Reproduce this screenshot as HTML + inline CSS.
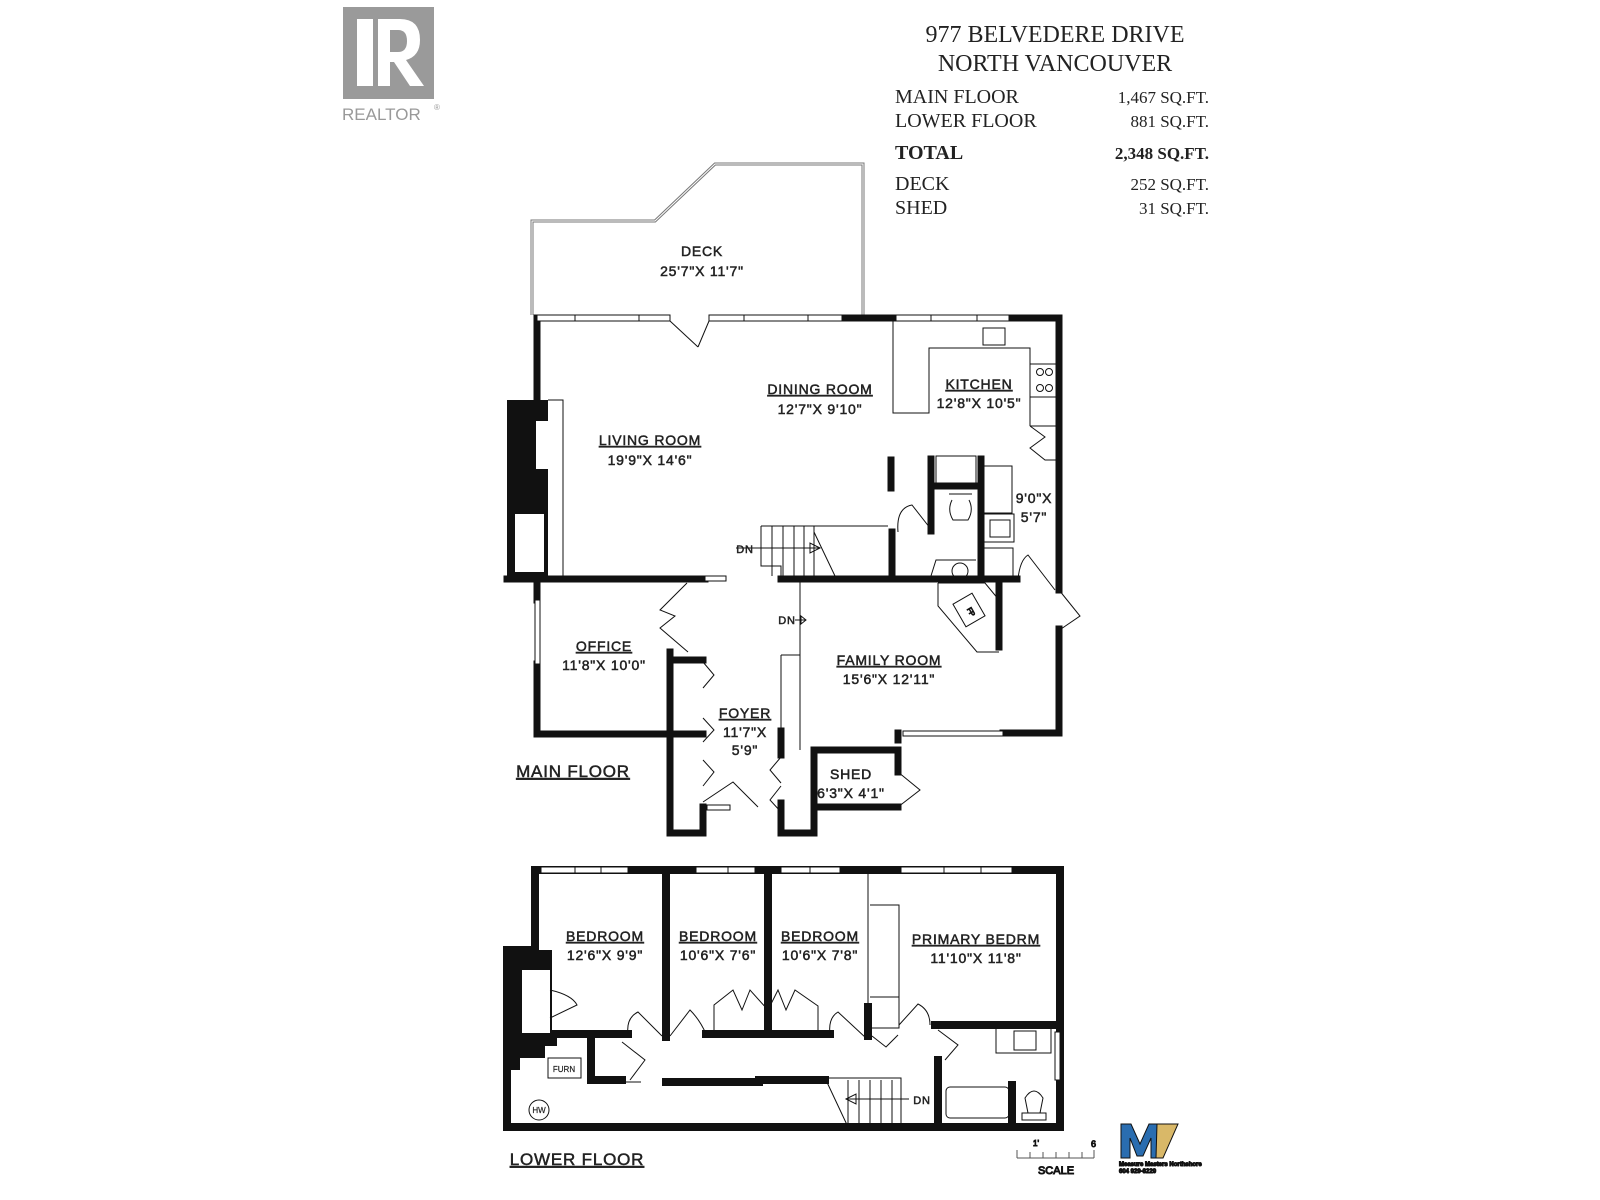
<!DOCTYPE html>
<html><head><meta charset="utf-8"><style>
html,body{margin:0;padding:0;background:#fff;}
svg{display:block}
.l{font-family:"Liberation Sans",sans-serif;font-size:14px;fill:#222;text-anchor:middle;stroke:#222;stroke-width:0.5;letter-spacing:0.8px}
.s{font-family:"Liberation Serif",serif;fill:#222}
</style></head><body>
<svg width="1600" height="1200" viewBox="0 0 1600 1200" xmlns="http://www.w3.org/2000/svg">
<rect width="1600" height="1200" fill="#fff"/>
<rect x="343" y="7" width="91" height="92" fill="#9a9a9a"/>
<rect x="357" y="19" width="16" height="67" fill="#fff"/>
<path d="M378 19 H400 Q420 19 420 40 Q420 56 406 60 L424 86 H410 L394 62 H390 V86 H378 Z M390 30 V52 H398 Q407 52 407 41 Q407 30 398 30 Z" fill="#fff"/>
<text x="342" y="120" font-family="Liberation Sans,sans-serif" font-size="17" fill="#999">REALTOR</text>
<text x="434" y="110" font-family="Liberation Sans,sans-serif" font-size="8" fill="#999">®</text>
<g class="s" font-size="24">
<text x="1055" y="42" text-anchor="middle">977 BELVEDERE DRIVE</text>
<text x="1055" y="71" text-anchor="middle">NORTH VANCOUVER</text>
</g>
<g class="s" font-size="20">
<text x="895" y="103">MAIN FLOOR</text><text x="1209" y="103" text-anchor="end" font-size="17">1,467 SQ.FT.</text>
<text x="895" y="127">LOWER FLOOR</text><text x="1209" y="127" text-anchor="end" font-size="17">881 SQ.FT.</text>
<text x="895" y="159" font-weight="bold">TOTAL</text><text x="1209" y="159" text-anchor="end" font-size="17" font-weight="bold">2,348 SQ.FT.</text>
<text x="895" y="190">DECK</text><text x="1209" y="190" text-anchor="end" font-size="17">252 SQ.FT.</text>
<text x="895" y="214">SHED</text><text x="1209" y="214" text-anchor="end" font-size="17">31 SQ.FT.</text>
</g>
<path d="M532 315 V221 H655 L715 164 H863 V315" fill="none" stroke="#777" stroke-width="3"/>
<path d="M532 315 V221 H655 L715 164 H863 V315" fill="none" stroke="#fff" stroke-width="1"/>
<text class="l" x="702" y="256">DECK</text>
<text class="l" x="702" y="276">25'7"X 11'7"</text>

<g fill="none" stroke="#111">
<g stroke-width="7" stroke-linecap="square">
<path d="M842 318 H896 M1009 318 H1059 V590 M1059 629 V733 H1003"/>
<path d="M537 318 V400"/>
<path d="M537 600 V579 M507 579 H705"/>
<path d="M537 664 V734 H703 M670 652 V833 H703 V807 M670 660 H703"/>
<path d="M781 731 V755 M781 803 V833 H814 V750 H898 V772 M814 807 H898 M898 733 V740"/>
<path d="M781 579 H1017"/>
<path d="M931 459 V531 M931 486 H981 M981 459 V579"/>
<path d="M999 579 V647"/>
<path d="M891 460 V488"/>
<path d="M892 532 V579"/>
</g>
<rect x="507" y="400" width="41" height="180" fill="#111" stroke="none"/>
<rect x="536" y="421" width="12" height="48" fill="#fff" stroke="none"/>
<rect x="515" y="514" width="29" height="58" fill="#fff" stroke="none"/>
<path d="M548 400 H563 V578" stroke-width="1"/>
<g stroke-width="1" fill="#fff">
<rect x="537" y="315" width="133" height="6"/><rect x="709" y="315" width="133" height="6"/><rect x="896" y="315" width="113" height="6"/>
<path d="M575 315V321M639 315V321M744 315V321M808 315V321M931 315V321M977 315V321"/>
<rect x="705" y="576" width="21" height="5"/>
<rect x="535" y="600" width="5" height="64"/>
<rect x="903" y="731" width="100" height="5"/>
<rect x="707" y="805" width="23" height="5"/>
</g>
<g stroke-width="1">
<path d="M670 321 L698 347 M709 321 L698 347"/>
<path d="M687 583 L660 610 L675 616 L660 628 L688 652"/>
<path d="M703 662 L714 675 L703 688 M703 718 L714 730 L703 742 M703 760 L714 772 L703 786 M781 757 L770 770 L781 783 M781 786 L770 800 L781 812 M703 802 L733 782 L758 807"/>
<path d="M898 772 L920 790 L898 807"/>
<path d="M1059 590 L1080 616 L1061 629"/>
<path d="M1056 426 H1030 M1030 426 L1045 437 L1030 448 L1045 460 H1056"/>
<path d="M898 532 Q896 508 912 505 L930 528"/>
<path d="M1018 579 Q1020 560 1028 555 L1055 590"/>
<path d="M893 321 V413 H929 V348 H1030 V426 M1030 364 H1056 V397 H1030"/>
<rect x="983" y="328" width="22" height="17"/>
<circle cx="1040" cy="372" r="3.5"/><circle cx="1049" cy="372" r="3.5"/><circle cx="1040" cy="388" r="3.5"/><circle cx="1049" cy="388" r="3.5"/>
<rect x="936" y="456" width="40" height="29"/>
<path d="M984 466 H1012 V513 H984 M984 514 H1014 V542 H984 M984 548 H1013 V579"/>
<rect x="990" y="520" width="20" height="17"/>
<path d="M949 494 H972 M952 500 Q947 510 953 520 H968 Q974 510 969 500"/>
<path d="M930 579 L936 560 H976"/>
<circle cx="960" cy="571" r="8"/>
<path d="M761 526 H888 M761 526 V566 H781 V579 M772 526V576M783 526V576M794 526V576M804 526V576M814 526V576M814 532 L835 576 M736 548 H820 M820 548 L810 543 V553 Z"/>
<path d="M800 579 V750 M781 655 H800 M781 655 V731"/>
<path d="M938 583 V606 L977 652 H999 M938 583 H985 L999 600"/>
<rect x="958" y="597" width="22" height="26" transform="rotate(-30 969 610)"/>
<path d="M795 620 H806 M806 620 L801 616 V624 Z"/>
</g>
<g class="l">
<text x="820" y="394" text-decoration="underline">DINING ROOM</text><text x="820" y="414">12'7"X 9'10"</text>
<text x="979" y="389" text-decoration="underline">KITCHEN</text><text x="979" y="408">12'8"X 10'5"</text>
<text x="650" y="445" text-decoration="underline">LIVING ROOM</text><text x="650" y="465">19'9"X 14'6"</text>
<text x="1034" y="503">9'0"X</text><text x="1034" y="522">5'7"</text>
<text x="745" y="553" font-size="11">DN</text>
<text x="787" y="624" font-size="11">DN</text>
<text x="604" y="651" text-decoration="underline">OFFICE</text><text x="604" y="670">11'8"X 10'0"</text>
<text x="889" y="665" text-decoration="underline">FAMILY ROOM</text><text x="889" y="684">15'6"X 12'11"</text>
<text x="745" y="718" text-decoration="underline">FOYER</text><text x="745" y="737">11'7"X</text><text x="745" y="755">5'9"</text>
<text x="851" y="779">SHED</text><text x="851" y="798">6'3"X 4'1"</text>
<text x="573" y="777" font-size="17" text-decoration="underline">MAIN FLOOR</text>
<text x="577" y="1165" font-size="17" text-decoration="underline">LOWER FLOOR</text>
</g>
<text x="969" y="613" font-family="Liberation Sans,sans-serif" font-size="7" transform="rotate(60 969 613)" text-anchor="middle">FP</text>

<g fill="none" stroke="#111">
<g stroke-width="8" stroke-linecap="square">
<path d="M535 870 H1060 V1127 H507 V950 H535 V870"/>
<path d="M666 870 V1037 M768 870 V1033 M550 1034 H628 M706 1034 H830 M868 1007 V1036"/>
<path d="M935 1025 H1060 M938 1060 V1127 M1012 1085 V1127 M666 1082 H759 V1080 H825"/>
<path d="M591 1042 V1080 H622"/>
</g>
<rect x="507" y="950" width="45" height="85" fill="#111" stroke="none"/>
<rect x="522" y="970" width="28" height="63" fill="#fff" stroke="none"/>
<path d="M507 1033 H557 V1046 H545 V1058 H520 V1070 H507 Z" fill="#111" stroke="none"/>
<g stroke-width="1" fill="#fff">
<rect x="541" y="867" width="87" height="6"/><rect x="696" y="867" width="59" height="6"/><rect x="781" y="867" width="59" height="6"/><rect x="901" y="867" width="111" height="6"/>
<path d="M575 867V873M601 867V873M728 867V873M810 867V873M944 867V873M981 867V873"/>
<rect x="1055" y="1032" width="5" height="48"/>
</g>
<g stroke-width="1">
<path d="M868 873 V1007 M870 905 H899 V1028 H870 M870 997 H899"/>
<path d="M550 990 Q572 995 577 1005 L550 1018"/>
<path d="M628 1034 Q626 1018 638 1012 L662 1036 M670 1036 L690 1010 Q700 1020 706 1034"/>
<path d="M714 1034 V1005 L733 990 L742 1010 L750 990 L768 1010 L778 990 L786 1010 L795 990 L818 1006 V1034"/>
<path d="M830 1034 Q828 1018 838 1012 L866 1038 M872 1036 L886 1047 L898 1035"/>
<path d="M899 1025 L918 1004 Q930 1010 930 1025 M938 1030 L958 1045 L945 1060"/>
<path d="M622 1042 L645 1060 L630 1080 M602 1082 H641"/>
<rect x="548" y="1058" width="33" height="20"/>
<circle cx="539" cy="1110" r="10"/>
<rect x="996" y="1028" width="55" height="25"/><rect x="1014" y="1031" width="22" height="19"/>
<rect x="946" y="1087" width="63" height="31" rx="4"/>
<path d="M1022 1120 H1046 V1113 H1022 Z M1028 1113 L1025 1098 Q1034 1084 1043 1098 L1040 1113"/>
<path d="M825 1078 H901 V1127 M825 1078 L848 1127 M848 1080V1127M859 1080V1127M870 1080V1127M881 1080V1127M892 1080V1127 M909 1099 H846 M846 1099 L856 1094 V1104 Z"/>
</g>
</g>
<g class="l">
<text x="605" y="941" text-decoration="underline">BEDROOM</text><text x="605" y="960">12'6"X 9'9"</text>
<text x="718" y="941" text-decoration="underline">BEDROOM</text><text x="718" y="960">10'6"X 7'6"</text>
<text x="820" y="941" text-decoration="underline">BEDROOM</text><text x="820" y="960">10'6"X 7'8"</text>
<text x="976" y="944" text-decoration="underline">PRIMARY BEDRM</text><text x="976" y="963">11'10"X 11'8"</text>
<text x="922" y="1104" font-size="11">DN</text>
<text x="564" y="1072" font-size="8" stroke-width="0.2" letter-spacing="0">FURN</text>
<text x="539" y="1113" font-size="8" stroke-width="0.2" letter-spacing="0">HW</text>
</g>
<g stroke="#555" stroke-width="1">
<path d="M1017 1158 H1094 M1017 1150V1158M1030 1152V1158M1043 1152V1158M1056 1152V1158M1069 1152V1158M1082 1152V1158M1094 1150V1158"/>
</g>
<text x="1033" y="1146" font-family="Liberation Sans,sans-serif" font-size="8" fill="#555">1'</text>
<text x="1091" y="1147" font-family="Liberation Sans,sans-serif" font-size="9" fill="#555">6</text>
<text x="1056" y="1174" font-family="Liberation Sans,sans-serif" font-size="11" fill="#666" text-anchor="middle">SCALE</text>
<path d="M1121 1124 H1131 L1140 1144 L1149 1124 H1160 V1158 H1151 V1138 L1143 1156 H1137 L1130 1138 V1158 H1121 Z" fill="#2a6db0"/>
<path d="M1157 1124 H1178 L1163 1158 H1156 Z" fill="#d9b868"/>
<text x="1119" y="1166" font-family="Liberation Sans,sans-serif" font-size="6" font-weight="bold" fill="#222">Measure Masters Northshore</text>
<text x="1119" y="1173" font-family="Liberation Sans,sans-serif" font-size="6" font-weight="bold" fill="#222">604 929-8229</text>
</svg>
</body></html>
